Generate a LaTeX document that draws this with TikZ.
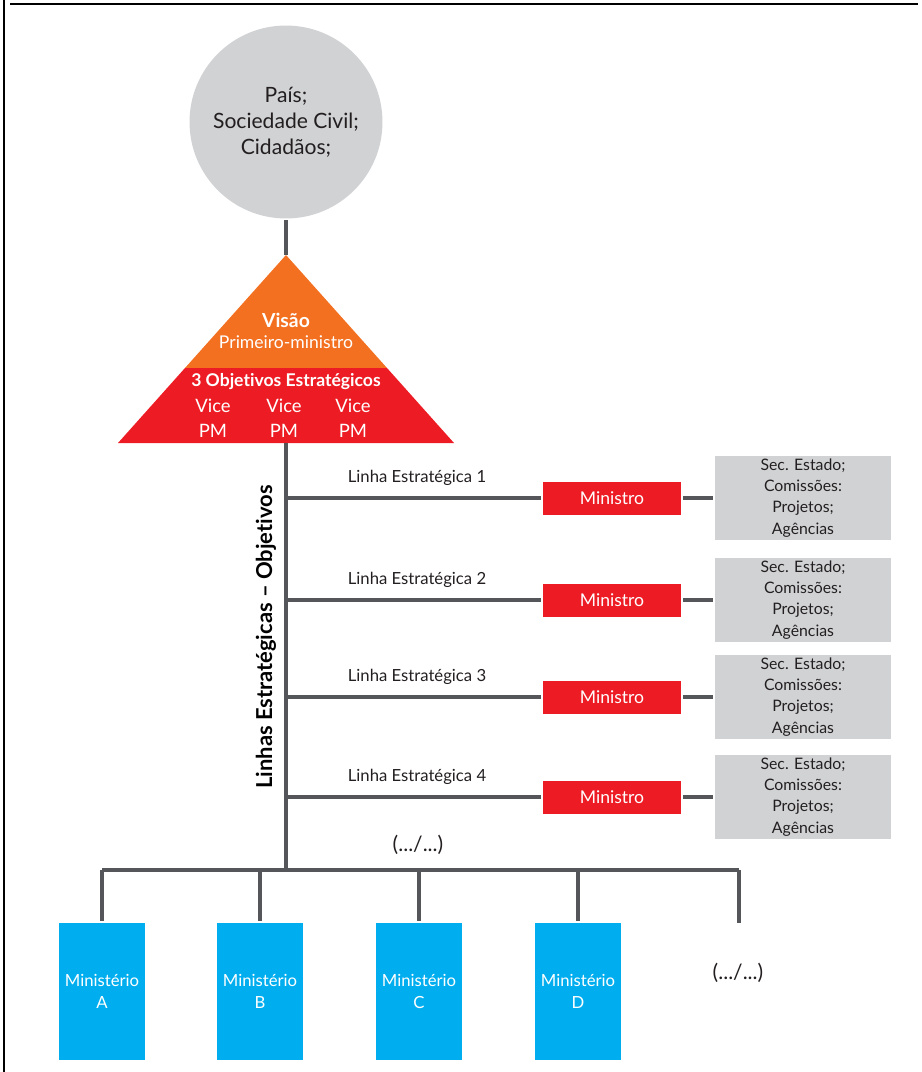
\documentclass[tikz,border=0pt]{standalone}
\usepackage{fontspec}
\setmainfont{Lato}[Ligatures=CommonOff]
\usetikzlibrary{%
  positioning,%
  shapes%
}
\definecolor{linegray}{HTML}{55565A}
\definecolor{circgray}{HTML}{D1D2D4}
\definecolor{visorange}{HTML}{F37021}
\definecolor{objred}{HTML}{ED1C24}
\definecolor{minblue}{HTML}{00AEEF}
\definecolor{txtblack}{HTML}{231F20}

\begin{document}
\begin{tikzpicture}
[x=0.02cm, y=-0.02cm, line width=2pt, draw=linegray,
 frame/.style={draw=black, line width=1.3pt},
 ministro/.style={rectangle, fill=objred, text=white, inner sep=0pt, minimum width=2.78cm, minimum height=0.66cm, font=\fontsize{10}{12}\selectfont},
 secbox/.style={rectangle, fill=circgray, text=txtblack, inner sep=0pt, minimum width=3.52cm, minimum height=1.68cm, align=center, font=\fontsize{9}{12}\selectfont},
 ministerio/.style={rectangle, fill=minblue, text=white, inner sep=0pt, minimum width=1.72cm, minimum height=2.74cm, align=center, font=\fontsize{9.5}{12.5}\selectfont},
 linhalabel/.style={text=txtblack, font=\fontsize{9.5}{12}\selectfont},
 tritext/.style={text=white, align=center}]

\useasboundingbox (0,0) rectangle (922,1072);

% cropped frame
\draw[frame] (4,0) -- (4,1072);
\draw[frame] (10,4) -- (918,4);

% top circle
\node[circle, fill=circgray, minimum size=3.86cm, inner sep=0pt, align=center, text=txtblack,
      font=\fontsize{12}{14.8}\selectfont] (pais) at (286,122) {País;\\Sociedade Civil;\\Cidadãos;};

% triangle: vision and objectives
\coordinate (apex) at (286,255);
\coordinate (splitL) at (185,368);
\coordinate (splitR) at (387,368);
\coordinate (baseL) at (118,443);
\coordinate (baseR) at (454,443);
\coordinate (tribase) at (286,443);
\fill[visorange] (apex) -- (splitR) -- (splitL) -- cycle;
\fill[objred] (splitL) -- (splitR) -- (baseR) -- (baseL) -- cycle;
\draw (pais.south) -- (apex);

\node[tritext, font=\bfseries\fontsize{11}{13}\selectfont] (visao) at (286,320) {Visão};
\node[tritext, font=\fontsize{10}{12}\selectfont] (pm) at (286,342) {Primeiro-ministro};
\node[tritext, font=\bfseries\fontsize{10}{13}\selectfont] (objetivos) at (286,382) {3 Objetivos Estratégicos};
\foreach \n/\x in {1/213, 2/284, 3/353}
	\node[tritext, font=\fontsize{10.5}{14}\selectfont] (vice\n) at (\x,418) {Vice\\PM};

% strategic lines
\coordinate (bus) at (286,870);
\draw (tribase) -- (bus);
\node[rotate=90, text=black, font=\bfseries\fontsize{12.5}{14}\selectfont] (eixo) at (266,637) {Linhas Estratégicas – Objetivos};

\foreach \i/\y in {1/498, 2/600, 3/697, 4/797}
{
	\coordinate (b\i) at (286,\y);
	\node[ministro] (min\i) at (612,\y) {Ministro};
	\node[secbox] (sec\i) at (803,\y) {Sec. Estado;\\Comissões:\\Projetos;\\Agências};
	\node[linhalabel] (linha\i) at (417,\y-20) {Linha Estratégica \i};
	\draw (b\i) -- (min\i);
	\draw (min\i) -- (sec\i);
}
\node[text=txtblack, font=\fontsize{12}{14}\selectfont] (etc1) at (418,845) {(.../...)};

% ministries
\foreach \n/\x in {A/102, B/260, C/419, D/578}
	\node[ministerio] (m\n) at (\x,991.5) {Ministério\\\n};
\coordinate (mEnd) at (739,923);
\draw (mA.north |- bus) -- (mEnd |- bus);
\foreach \n in {A,B,C,D}
	\draw (m\n.north |- bus) -- (m\n.north);
\draw (mEnd |- bus) -- (mEnd);
\node[text=txtblack, font=\fontsize{12}{14}\selectfont] (etc2) at (738,973) {(.../...)};
\end{tikzpicture}
\end{document}
